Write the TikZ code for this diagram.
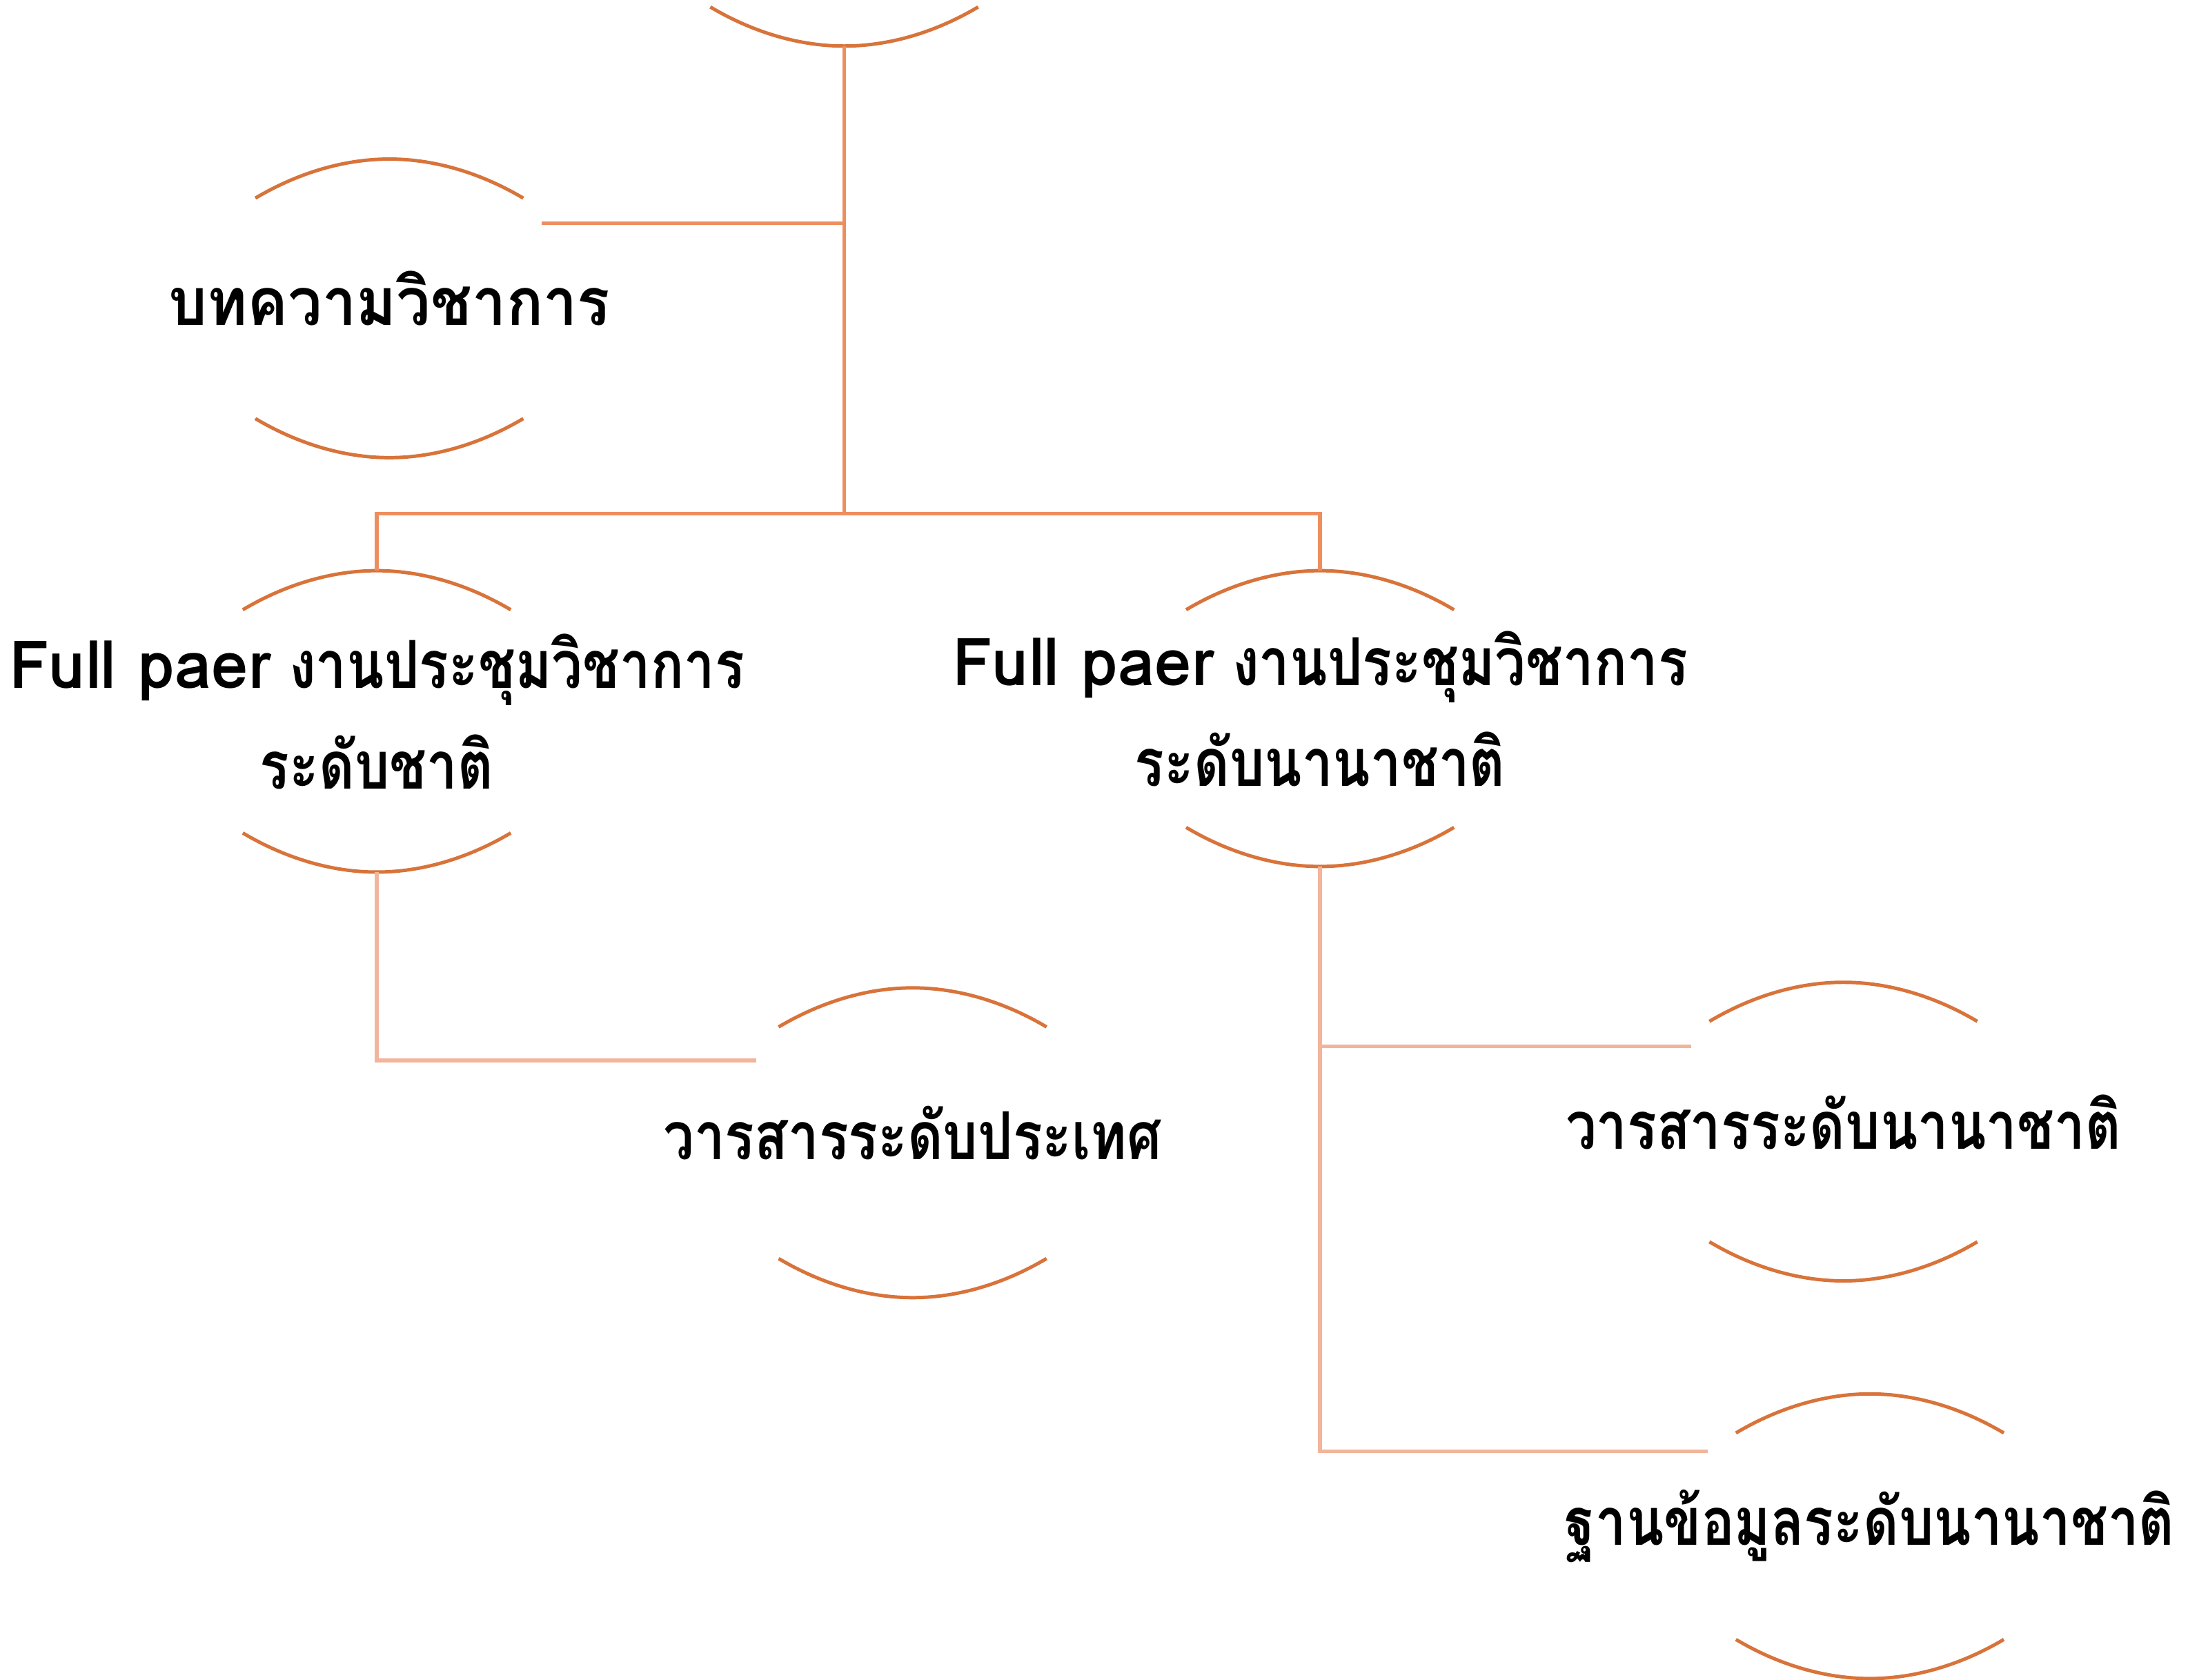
\documentclass[tikz,border=0pt]{standalone}
\usepackage{fontspec}
\newfontfamily\thaifont[Script=Thai,FakeStretch=0.83]{Loma}
\newfontfamily\thaiwide[Script=Thai,FakeStretch=0.92]{Loma}
\newfontfamily\latfont{Loma}
\usetikzlibrary{calc}
\definecolor{arcorange}{HTML}{D8733A}
\definecolor{linkorange}{HTML}{EE8E5E}
\definecolor{linklight}{HTML}{F2B59B}
% caps above and below a node: name, half height (text sits 7 above the caps' middle)
\def\capsframe(#1)(#2){
	\coordinate (#1-t) at ($(#1)+(0,7-#2)$);
	\coordinate (#1-b) at ($(#1)+(0,7+#2)$);
	\draw[caparc] ($(#1-t)+(-96,28)$) parabola bend (#1-t) ($(#1-t)+(96,28)$);
	\draw[caparc] ($(#1-b)+(-96,-28)$) parabola bend (#1-b) ($(#1-b)+(96,-28)$);
}

\begin{document}
\begin{tikzpicture}[x=0.02cm, y=-0.02cm,
	caparc/.style={line width=1.4pt, color=arcorange},
	link/.style={line width=1.5pt, color=linkorange},
	linklt/.style={line width=1.5pt, color=linklight},
	lbl/.style={font=\thaifont\fontsize{27}{41}\selectfont\bfseries, align=center, inner sep=0pt}]
			%%%%% START %%%%%
			\useasboundingbox (0,0) rectangle (1568,1204);
			
			\coordinate (root) at (605,-81);
			\capsframe(root)(107)
			
			\node[lbl, font=\thaiwide\fontsize{27}{41}\selectfont\bfseries] (art) at (279,214) {บทความวิชาการ};
			\capsframe(art)(107)
			
			\node[lbl] (natconf) at (270,510) {{\latfont Full paer} งานประชุมวิชาการ\\ระดับชาติ};
			\capsframe(natconf)(108)
			
			\node[lbl] (intconf) at (946,508) {{\latfont Full paer} งานประชุมวิชาการ\\ระดับนานาชาติ};
			\capsframe(intconf)(106)
			
			\node[lbl] (natjour) at (654,812) {วารสารระดับประเทศ};
			\capsframe(natjour)(111)
			
			\node[lbl] (intjour) at (1321,804) {วารสารระดับนานาชาติ};
			\capsframe(intjour)(107)
			
			\node[lbl] (intdb) at (1340,1094) {ฐานข้อมูลระดับนานาชาติ};
			\capsframe(intdb)(102)
			
			% trunk and first branches
			\coordinate (fork) at (605,368);
			\draw[link] (root-b) -- (fork);
			\draw[link] (root-b |- art-t) ++(0,46) coordinate (artj) -- ++(-217,0);
			\draw[link] (natconf-t) |- (fork) -| (intconf-t);
			
			% lower branches
			\draw[linklt] (natconf-b) |- ($(natjour-t)+(-112,52)$);
			\draw[linklt] (intconf-b) |- ($(intjour-t)+(-109,46)$);
			\draw[linklt] (intconf-b) |- ($(intdb-t)+(-116,41)$);
			
			%%%%% END %%%%%
\end{tikzpicture}
\end{document}
